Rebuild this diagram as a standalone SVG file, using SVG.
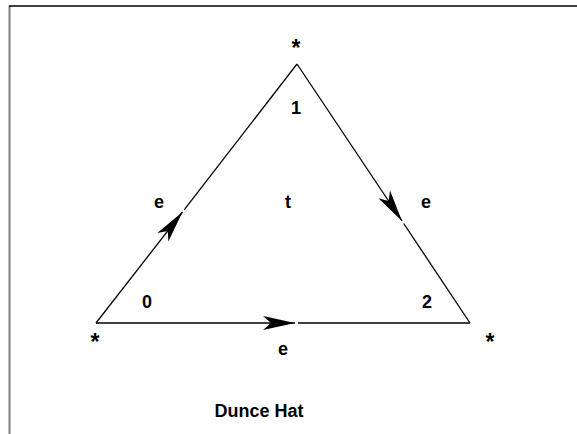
<svg xmlns="http://www.w3.org/2000/svg" width="577" height="434" viewBox="0 0 577 434">
<style>
text{font-family:"Liberation Sans",Arial,sans-serif;font-weight:bold;font-size:18px;fill:#000;text-anchor:middle}
text.ast{font-size:23px}
.edge{stroke:#000;stroke-width:1.3;fill:none}
.head{fill:#000;stroke:none}
</style>
<defs>
<path id="ah" d="M0,0 L-32,-7 L-24,0 L-32,7 Z"/>
</defs>
<rect width="577" height="434" fill="#fff"/>
<g id="frame">
<line x1="9.5" y1="6" x2="9.5" y2="434" stroke="#808080" stroke-width="2"/>
<line x1="9" y1="6" x2="577" y2="6" stroke="#000" stroke-width="1.5"/>
</g>
<g id="connectors">
<g id="edge-left">
<line class="edge" x1="96" y1="323" x2="182.5" y2="212"/>
<line class="edge" x1="184.3" y1="209.7" x2="297" y2="64"/>
<use href="#ah" class="head" transform="translate(182.5,212) rotate(-52.1)"/>
</g>
<g id="edge-right">
<line class="edge" x1="297" y1="64" x2="402" y2="221"/>
<line class="edge" x1="403.7" y1="223.5" x2="470" y2="323"/>
<use href="#ah" class="head" transform="translate(402,221) rotate(56.2)"/>
</g>
<g id="edge-bottom">
<line class="edge" x1="96" y1="323" x2="295" y2="323"/>
<line class="edge" x1="298" y1="323" x2="470" y2="323"/>
<use href="#ah" class="head" transform="translate(295,323)"/>
</g>
</g>
<g id="v-top"><text class="ast" x="296" y="56">*</text></g>
<g id="v-left"><text class="ast" x="95" y="350">*</text></g>
<g id="v-right"><text class="ast" x="490" y="350">*</text></g>
<g id="corner-1"><text x="296" y="114">1</text></g>
<g id="corner-0"><text x="147" y="308">0</text></g>
<g id="corner-2"><text x="427" y="308">2</text></g>
<g id="face-t"><text x="288" y="208">t</text></g>
<g id="label-e-left"><text x="159" y="208">e</text></g>
<g id="label-e-right"><text x="426" y="208">e</text></g>
<g id="label-e-bottom"><text x="283" y="355">e</text></g>
<g id="title"><text x="259" y="417">Dunce Hat</text></g>
</svg>
